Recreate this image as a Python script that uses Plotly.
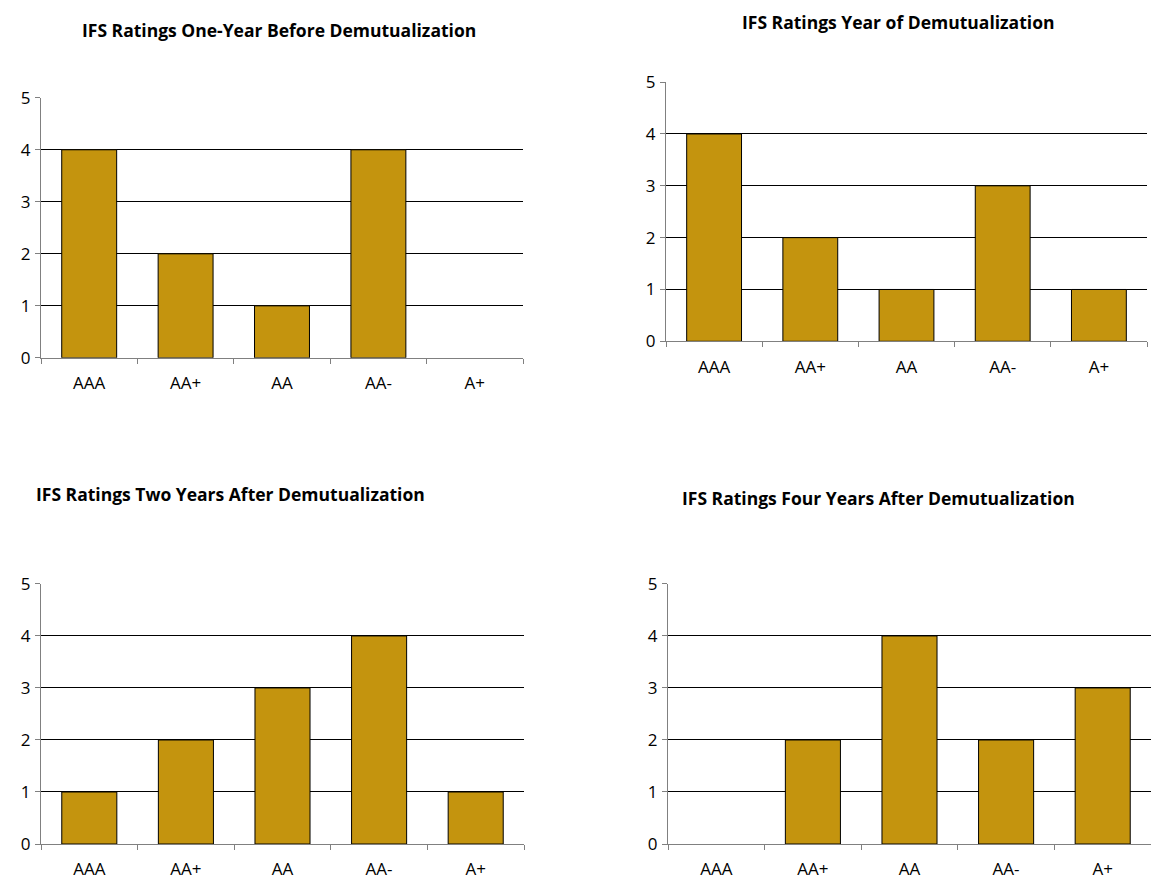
import plotly.graph_objects as go

# Rating categories shared by every panel
ratings = ["AAA", "AA+", "AA", "AA-", "A+"]

# Number of companies per rating in each period
one_year_before = [4, 2, 1, 4, 0]
year_of = [4, 2, 1, 3, 1]
two_years_after = [1, 2, 3, 4, 1]
four_years_after = [0, 2, 4, 2, 3]

titles = [
    "IFS Ratings One-Year Before Demutualization",
    "IFS Ratings Year of Demutualization",
    "IFS Ratings Two Years After Demutualization",
    "IFS Ratings Four Years After Demutualization",
]
series = [one_year_before, year_of, two_years_after, four_years_after]

W, H = 1160, 894
# plot areas in pixels: (left, right, top, bottom)
boxes = [
    (41, 523, 88, 355),
    (666, 1147, 72, 338),
    (41, 524, 587, 854),
    (668, 1151, 587, 854),
]
# title centres in pixels: (x, y)
title_pos = [(279, 18), (898, 10), (230, 495), (878, 499)]

FONT = "Open Sans, Liberation Sans, sans-serif"
BAR = "#C4940E"

fig = go.Figure()
for i, (vals, box) in enumerate(zip(series, boxes)):
    sfx = "" if i == 0 else str(i + 1)
    # empty categories get no outline so nothing is drawn on the baseline
    outline = [1 if v > 0 else 0 for v in vals]
    fig.add_trace(go.Bar(
        x=ratings, y=vals,
        xaxis="x" + sfx, yaxis="y" + sfx,
        marker=dict(color=BAR, line=dict(color="#000000", width=outline)),
        width=0.57, showlegend=False, hoverinfo="x+y",
    ))
    l, r, t, b = box
    xd = [l / W, r / W]
    yd = [1 - b / H, 1 - t / H]
    fig.update_layout(**{
        "xaxis" + sfx: dict(
            domain=xd, anchor="y" + sfx, type="category",
            tickson="boundaries", ticks="outside", ticklen=5,
            tickcolor="#808080", showline=True, linecolor="#808080",
            linewidth=1, showgrid=False, zeroline=False,
            tickfont=dict(family=FONT, size=17, color="#000000"),
            ticklabelstandoff=10, fixedrange=True,
        ),
        "yaxis" + sfx: dict(
            domain=yd, anchor="x" + sfx, range=[0, 5], dtick=1,
            ticks="outside", ticklen=5, tickcolor="#808080",
            showline=True, linecolor="#808080", linewidth=1,
            showgrid=True, gridcolor="#000000", gridwidth=1,
            zeroline=False,
            tickfont=dict(family=FONT, size=17, color="#000000"),
            ticklabelstandoff=1, fixedrange=True,
        ),
    })
    tx, ty = title_pos[i]
    fig.add_annotation(
        text="<b>" + titles[i] + "</b>", x=tx / W, y=1 - ty / H,
        xref="paper", yref="paper", xanchor="center", yanchor="middle",
        showarrow=False, font=dict(family=FONT, size=17.5, color="#000000"),
    )

fig.update_layout(
    width=W, height=H,
    margin=dict(l=0, r=0, t=0, b=0),
    paper_bgcolor="#FFFFFF", plot_bgcolor="#FFFFFF",
    bargap=0.43,
)
fig.write_html("out.html")
